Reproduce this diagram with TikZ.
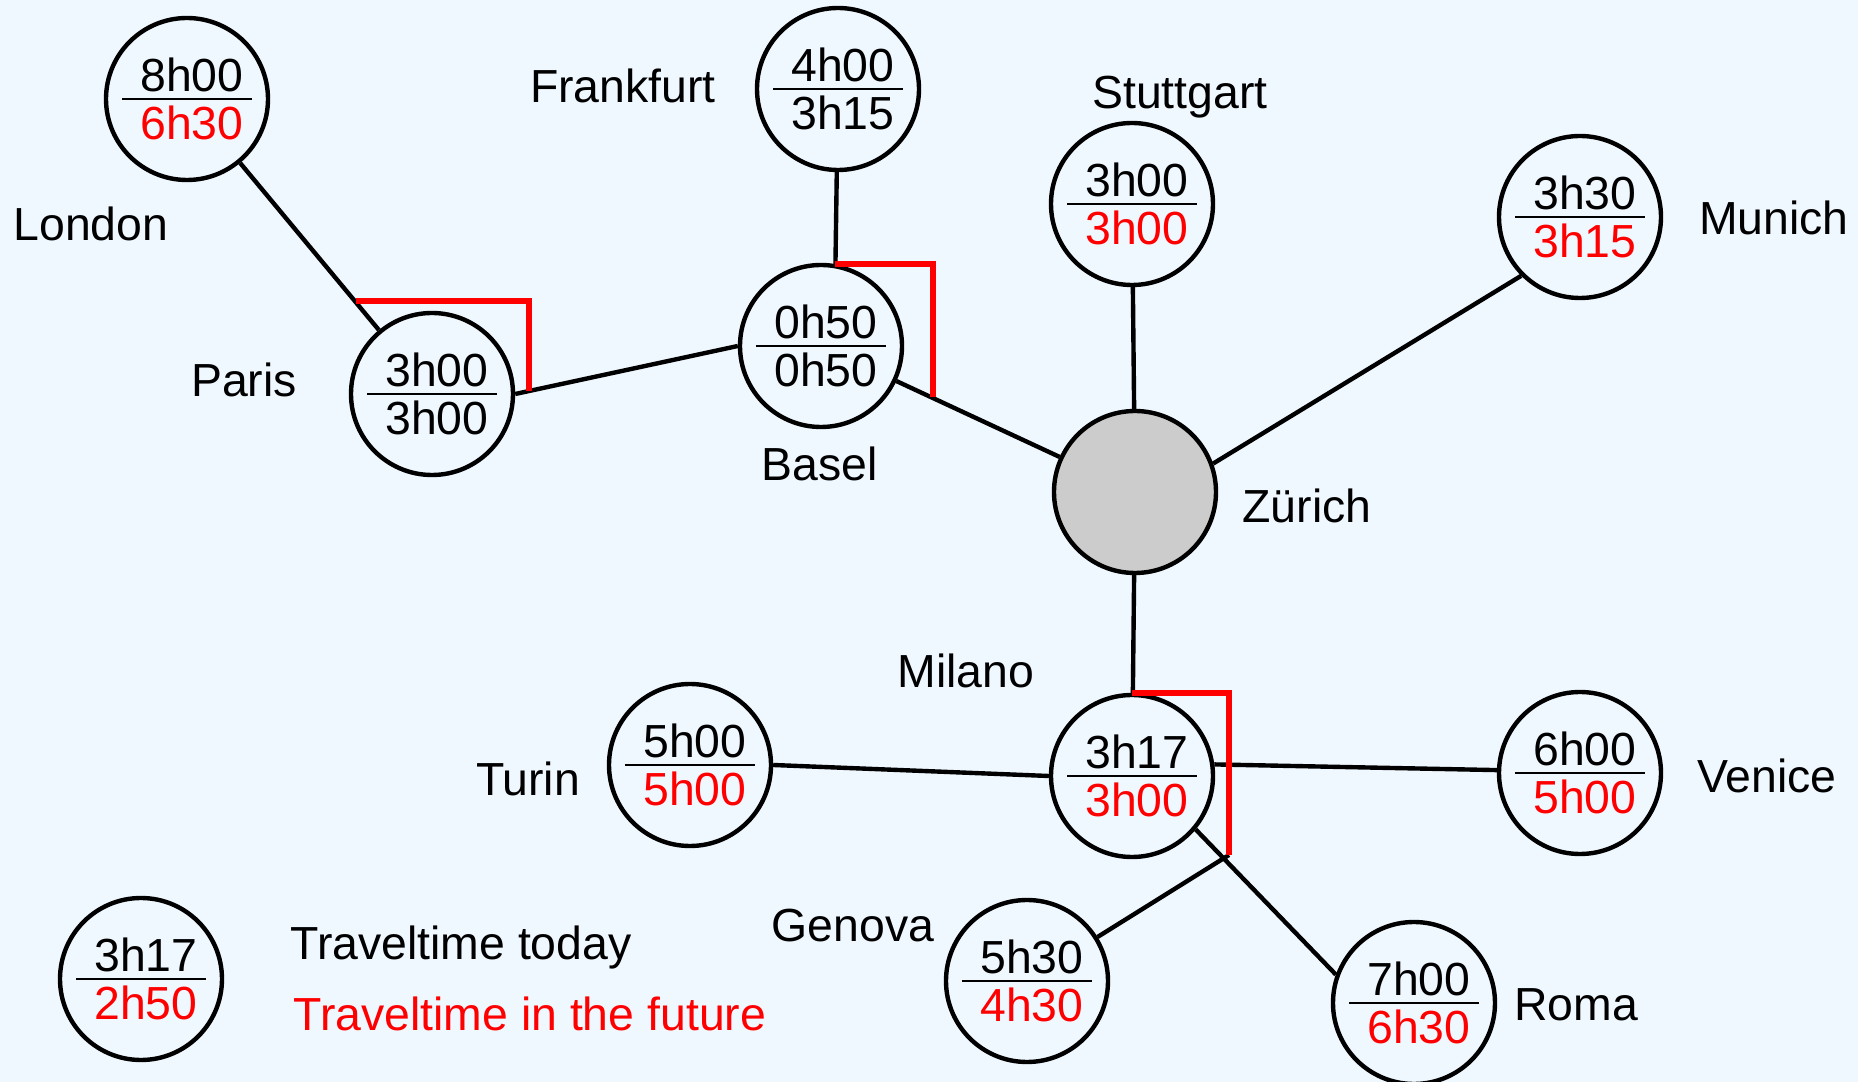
\documentclass[tikz,border=0pt]{standalone}
\usepackage{fontspec}
\setmainfont{Liberation Sans}
\usepackage{tikz}
\usetikzlibrary{positioning}
\definecolor{skyback}{HTML}{F0F8FF}
\definecolor{hubgray}{HTML}{CCCCCC}
\tikzset{
  city/.style={circle, draw=black, line width=1.25pt, minimum size=1.62cm, inner sep=0pt, align=center, font=\fontsize{13.2}{16}\selectfont},
  hub/.style={circle, draw=black, line width=1.25pt, minimum size=1.62cm, fill=hubgray},
  cityname/.style={anchor=base, font=\fontsize{13.2}{16}\selectfont},
  link/.style={line width=1.25pt},
  future/.style={draw=red, line width=1.6pt},
}
\newcommand{\traveltime}[2]{\hspace*{0.1cm}#1\\[-13.6pt]\rule{1.3cm}{0.6pt}\\[-4.8pt]\hspace*{0.1cm}#2}

\begin{document}
\begin{tikzpicture}
    \fill[skyback] (0,0) rectangle (18.58,10.82);
    \useasboundingbox (0,0) rectangle (18.58,10.82);
    % Draw the stations with the travel time today and in the future.
    \node[city] (london) at (1.87,9.83) {\traveltime{8h00}{\textcolor{red}{6h30}}};
    \node[city] (frankfurt) at (8.38,9.93) {\traveltime{4h00}{3h15}};
    \node[city] (stuttgart) at (11.32,8.78) {\traveltime{3h00}{\textcolor{red}{3h00}}};
    \node[city] (munich) at (15.80,8.65) {\traveltime{3h30}{\textcolor{red}{3h15}}};
    \node[city] (paris) at (4.32,6.88) {\traveltime{3h00}{3h00}};
    \node[city] (basel) at (8.21,7.36) {\traveltime{0h50}{0h50}};
    \node[hub] (zurich) at (11.35,5.90) {};
    \node[city] (milano) at (11.32,3.06) {\traveltime{3h17}{\textcolor{red}{3h00}}};
    \node[city] (turin) at (6.90,3.17) {\traveltime{5h00}{\textcolor{red}{5h00}}};
    \node[city] (venice) at (15.80,3.09) {\traveltime{6h00}{\textcolor{red}{5h00}}};
    \node[city] (genova) at (10.27,1.01) {\traveltime{5h30}{\textcolor{red}{4h30}}};
    \node[city] (roma) at (14.14,0.79) {\traveltime{7h00}{\textcolor{red}{6h30}}};

    % Names of the cities.
    \node[cityname] (londonname) at (0.91,8.41) {London};
    \node[cityname] (frankfurtname) at (6.23,9.79) {Frankfurt};
    \node[cityname] (stuttgartname) at (11.80,9.73) {Stuttgart};
    \node[cityname] (munichname) at (17.74,8.47) {Munich};
    \node[cityname] (parisname) at (2.44,6.85) {Paris};
    \node[cityname] (baselname) at (8.20,6.01) {Basel};
    \node[cityname] (zurichname) at (13.07,5.59) {Zürich};
    \node[cityname] (milanoname) at (9.66,3.94) {Milano};
    \node[cityname] (turinname) at (5.28,2.86) {Turin};
    \node[cityname] (venicename) at (17.67,2.89) {Venice};
    \node[cityname] (genovaname) at (8.53,1.40) {Genova};
    \node[cityname] (romaname) at (15.76,0.61) {Roma};

    % The legend.
    \node[city] (legend) at (1.41,1.03) {\traveltime{3h17}{\textcolor{red}{2h50}}};
    \node[cityname, anchor=base west] (todaytext) at (2.78,1.22) {Traveltime today};
    \node[cityname, anchor=base west, text=red] (futuretext) at (2.81,0.51) {Traveltime in the future};

    % Ends of the new shortcuts.
    \coordinate (parisin) at (3.56,7.81);
    \coordinate (parisout) at (5.29,6.91);
    \coordinate (baselout) at (9.33,6.85);
    \coordinate (milanoout) at (12.29,2.27);

    % Draw the lines of today.
    \draw[link] (london) -- (paris);
    \draw[link] (paris.east) -- (basel.west);
    \draw[link] (frankfurt) -- (basel.80);
    \draw[link] (basel) -- (zurich);
    \draw[link] (stuttgart) -- (zurich);
    \draw[link] (munich.225) -- (zurich.20);
    \draw[link] (zurich) -- (milano);
    \draw[link] (turin.east) -- (milano.west);
    \draw[link] (milano.8) -- (venice.178);
    \draw[link] (milano.-40) -- (roma.160);
    \draw[link] (genova) -- (milanoout);

    % Draw the shortcuts of the future.
    \draw[future] (parisin) -| (parisout);
    \draw[future] (basel.80) -| (baselout);
    \draw[future] (milano.north) -| (milanoout);
\end{tikzpicture}
\end{document}
